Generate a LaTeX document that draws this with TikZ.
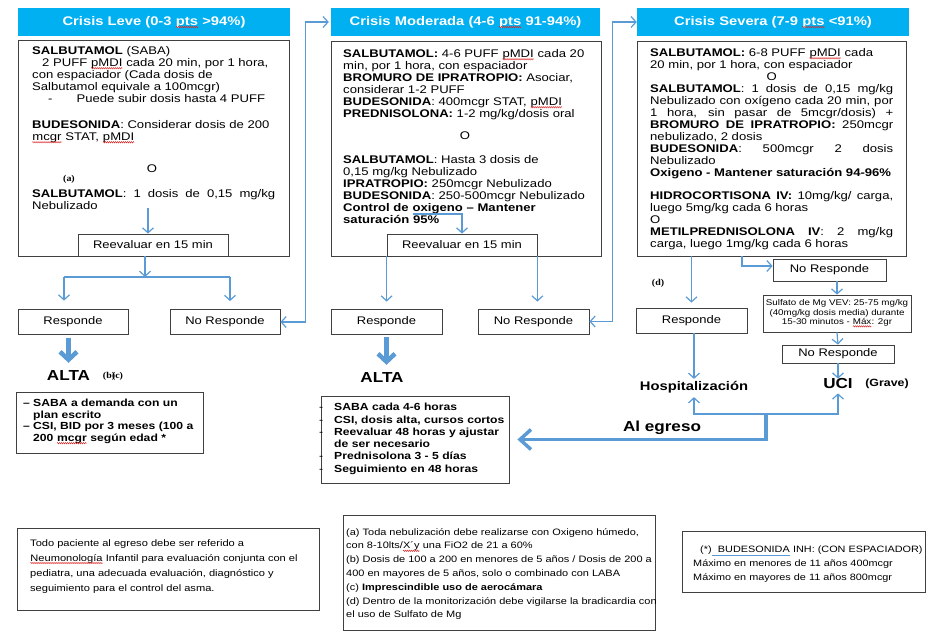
\documentclass[tikz,border=0pt]{standalone}
\usepackage{fontspec}
\setmainfont{Liberation Sans}[FakeStretch=1.18]
\newfontfamily\notefont{Liberation Serif}[FakeStretch=1.1]
\usetikzlibrary{arrows.meta,decorations.pathmorphing}

\definecolor{hdrblue}{RGB}{0,176,240}
\definecolor{lineblue}{RGB}{91,155,213}
\definecolor{boxgray}{RGB}{64,64,64}
\definecolor{sqred}{RGB}{220,40,40}

\tikzset{plainword/.style={shape=rectangle, draw=none, fill=none, minimum width=0pt, minimum height=0pt,
    inner sep=0pt, outer sep=0pt, anchor=base, align=left}}

\newcommand{\jline}[1]{\makebox[243pt][s]{#1}}
\newcommand{\dashitem}[1]{\makebox[10pt][l]{--}#1}
\newcommand{\sq}[1]{\tikz[baseline=(sqw.base)]{\node[plainword] (sqw) {#1};
    \draw[sqred, line width=0.45pt, decorate, decoration={zigzag, amplitude=0.7pt, segment length=2pt}] ([yshift=-2pt]sqw.base west) -- ([yshift=-2pt]sqw.base east);}}
\newcommand{\bul}[1]{\tikz[baseline=(ulw.base)]{\node[plainword] (ulw) {#1};
    \draw[lineblue, line width=0.6pt] ([yshift=-2pt]ulw.base west) -- ([yshift=-2pt]ulw.base east);}}
\newcommand{\bdul}[1]{\tikz[baseline=(ulw.base)]{\node[plainword] (ulw) {#1};
    \draw[lineblue, line width=0.5pt] ([yshift=-2pt]ulw.base west) -- ([yshift=-2pt]ulw.base east)
        ([yshift=-3.5pt]ulw.base west) -- ([yshift=-3.5pt]ulw.base east);}}

\begin{document}
\begin{tikzpicture}[x=1pt,y=-1pt,
    hdr/.style={fill=hdrblue, text=white, font=\bfseries\fontsize{12.5}{14}\selectfont, minimum height=28pt, inner sep=0pt},
    panel/.style={draw=boxgray, line width=0.8pt, inner sep=0pt},
    txt/.style={anchor=north west, inner sep=0pt, align=left, font=\fontsize{11.1}{12}\selectfont},
    small/.style={panel, font=\fontsize{11}{13}\selectfont},
    link/.style={draw=lineblue, line width=1.2pt, -{Straight Barb[length=5pt,width=11pt]}},
    link2/.style={draw=lineblue, line width=1.2pt, {Straight Barb[length=5pt,width=11pt]}-{Straight Barb[length=5pt,width=11pt]}},
    fat/.style={draw=lineblue, line width=4.5pt, -{Straight Barb[length=8pt,width=17pt]}},
    big/.style={font=\bfseries\fontsize{14.5}{16}\selectfont, inner sep=0pt},
    refmark/.style={font=\notefont\bfseries\fontsize{9}{10}\selectfont, inner sep=0pt}]

    \useasboundingbox (0,0) rectangle (934,639);

    \node[hdr, minimum width=272pt] (leveHdr) at (154,22) {Crisis Leve (0-3 \sq{pts} >94\%)};
    \node[hdr, minimum width=269pt] (modHdr) at (465.5,22) {Crisis Moderada (4-6 \sq{pts} 91-94\%)};
    \node[hdr, minimum width=272pt] (sevHdr) at (773,22) {Crisis Severa (7-9 \sq{pts} <91\%)};

    \node[panel, minimum width=271pt, minimum height=216pt] (leve) at (153.5,148) {};
    \node[panel, minimum width=270pt, minimum height=215pt] (mod) at (466,148.5) {};
    \node[panel, minimum width=269pt, minimum height=215pt] (sev) at (771.5,148.5) {};

    % leve
    \node[txt] (leveTxtA) at (32,46) {\textbf{SALBUTAMOL} (SABA)\\
        \hspace*{10pt}2 PUFF \sq{pMDI} cada 20 min, por 1 hora,\\
        con espaciador (Cada dosis de\\
        Salbutamol equivale a 100mcgr)\\
        \hspace*{16pt}-\hspace*{24pt}Puede subir dosis hasta 4 PUFF\\[14pt]
        \textbf{BUDESONIDA}: Considerar dosis de 200\\
        \sq{mcgr} STAT, \sq{pMDI}};
    \node[txt, anchor=center] (leveO) at (152,169) {O};
    \node[refmark] (noteA) at (69,179) {(a)};
    \node[txt] (leveTxtB) at (32,189) {\jline{\textbf{SALBUTAMOL}: 1 dosis de 0,15 mg/kg}\\
        Nebulizado};

    % moderada
    \node[txt] (modTxtA) at (343,49) {\textbf{SALBUTAMOL:} 4-6 PUFF \sq{pMDI} cada 20\\
        min, por 1 hora, con espaciador\\
        \textbf{BROMURO DE IPRATROPIO:} Asociar,\\
        considerar 1-2 PUFF\\
        \textbf{BUDESONIDA}: 400mcgr STAT, \sq{pMDI}\\
        \textbf{PREDNISOLONA:} 1-2 mg/kg/dosis oral};
    \node[txt, anchor=center] (modO) at (465,136) {O};
    \node[txt] (modTxtB) at (343,155) {\textbf{SALBUTAMOL}: Hasta 3 dosis de\\
        0,15 mg/kg Nebulizado\\
        \textbf{IPRATROPIO:} 250mcgr Nebulizado\\
        \textbf{BUDESONIDA}: 250-500mcgr Nebulizado\\
        \textbf{Control de \bdul{oxigeno} -- Mantener}\\
        \textbf{saturación 95\%}};

    % severa
    \node[txt] (sevTxt) at (650,48) {\textbf{SALBUTAMOL:} 6-8 PUFF \sq{pMDI} cada\\
        20 min, por 1 hora, con espaciador\\
        \makebox[243pt]{O}\\
        \jline{\textbf{SALBUTAMOL}: 1 dosis de 0,15 mg/kg}\\
        \jline{Nebulizado con oxígeno cada 20 min, por}\\
        \jline{1 hora, sin pasar de 5mcgr/dosis) +}\\
        \jline{\textbf{BROMURO DE IPRATROPIO:} 250mcgr}\\
        nebulizado, 2 dosis\\
        \jline{\textbf{BUDESONIDA}: 500mcgr 2 dosis}\\
        Nebulizado\\
        \textbf{Oxigeno - Mantener saturación 94-96\%}\\[11pt]
        \jline{\textbf{HIDROCORTISONA IV:} 10mg/kg/ carga,}\\
        luego 5mg/kg cada 6 horas\\
        O\\
        \jline{\textbf{METILPREDNISOLONA IV}: 2 mg/kg}\\
        carga, luego 1mg/kg cada 6 horas};

    \node[small, minimum width=150pt, minimum height=22pt] (reev1) at (153,245) {Reevaluar en 15 min};
    \node[small, minimum width=150pt, minimum height=22pt] (reev2) at (462,245) {Reevaluar en 15 min};

    \node[small, minimum width=110pt, minimum height=25pt] (resp1) at (73,321.5) {Responde};
    \node[small, minimum width=110pt, minimum height=25pt] (noresp1) at (225,322) {No Responde};
    \node[small, minimum width=111pt, minimum height=25pt] (resp2) at (386.5,321.5) {Responde};
    \node[small, minimum width=111pt, minimum height=25pt] (noresp2) at (533.5,321.5) {No Responde};
    \node[small, minimum width=111pt, minimum height=25pt] (resp3) at (691.5,320.5) {Responde};
    \node[small, minimum width=113pt, minimum height=22pt] (noresp3a) at (829.5,270) {No Responde};
    \node[panel, minimum width=148pt, minimum height=37pt, align=center, font=\fontsize{8.3}{9.3}\selectfont] (sulfato) at (837,313.5)
        {Sulfato de Mg VEV: 25-75 mg/kg\\(40mg/kg dosis media) durante\\15-30 minutos - \sq{Máx}: 2gr};
    \node[small, minimum width=112pt, minimum height=18pt] (noresp3b) at (838,354) {No Responde};

    \node[big] (alta1) at (68.5,376) {ALTA};
    \node[refmark] (noteBC) at (113,376) {(b)\kern-3pt(c)};
    \node[big] (alta2) at (382,378) {ALTA};
    \node[refmark] (noteD) at (658,283) {(d)};
    \node[inner sep=0pt, font=\bfseries\fontsize{12.5}{14}\selectfont] (hosp) at (694,387) {Hospitalización};
    \node[big] (uci) at (838,384) {UCI};
    \node[inner sep=0pt, font=\bfseries\fontsize{10.5}{12}\selectfont] (grave) at (887,384) {(Grave)};
    \node[big] (egreso) at (662,428) {Al egreso};

    \node[panel, minimum width=187pt, minimum height=61pt] (altaBox1) at (109.5,422.5) {};
    \node[txt, font=\bfseries\fontsize{10.3}{11.5}\selectfont] (altaTxt1) at (23,399) {\dashitem{SABA a demanda con un}\\
        \hspace*{10pt}plan escrito\\
        \dashitem{CSI, BID por 3 meses (100 a}\\
        \hspace*{10pt}200 \sq{mcgr} según edad *};
    \node[panel, minimum width=188pt, minimum height=87pt] (altaBox2) at (415,439.5) {};
    \node[txt, font=\bfseries\fontsize{10.3}{11.5}\selectfont] (altaTxt2) at (319,403) {\makebox[15pt][l]{\mdseries -}SABA cada 4-6 horas\\[1pt]
        \makebox[15pt][l]{\mdseries -}CSI, dosis alta, cursos cortos\\[1pt]
        \makebox[15pt][l]{\mdseries -}Reevaluar 48 horas y ajustar\\
        \hspace*{15pt}de ser necesario\\[1pt]
        \makebox[15pt][l]{\mdseries -}Prednisolona 3 - 5 días\\[1pt]
        \makebox[15pt][l]{\mdseries -}Seguimiento en 48 horas};

    \node[panel, minimum width=302pt, minimum height=82pt] (note1) at (168,569) {};
    \node[txt, font=\fontsize{9.4}{15}\selectfont] (note1Txt) at (30,539) {Todo paciente al egreso debe ser referido a\\
        \sq{Neumonología} Infantil para evaluación conjunta con el\\
        pediatra, una adecuada evaluación, diagnóstico y\\
        seguimiento para el control del asma.};
    \node[panel, minimum width=312pt, minimum height=115pt] (note2) at (499,572.5) {};
    \node[txt, font=\fontsize{9.3}{13.8}\selectfont] (note2Txt) at (346,528) {(a) Toda nebulización debe realizarse con Oxigeno húmedo,\\
        con 8-10lts/\sq{X´y} una FiO2 de 21 a 60\%\\
        (b) Dosis de 100 a 200 en menores de 5 años / Dosis de 200 a\\
        400 en mayores de 5 años, solo o combinado con LABA\\
        (c) \textbf{Imprescindible uso de aerocámara}\\
        (d) Dentro de la monitorización debe vigilarse la bradicardia con\\
        el uso de Sulfato de Mg};
    \node[panel, minimum width=243pt, minimum height=61pt] (note3) at (803.5,561.5) {};
    \node[txt, font=\fontsize{9.2}{14}\selectfont] (note3Txt) at (693,546) {\hspace*{7pt}(*)\bul{\ \ BUDESONIDA} INH: (CON ESPACIADOR)\\
        Máximo en menores de 11 años 400mcgr\\
        Máximo en mayores de 11 años 800mcgr};

    \coordinate (leveOut) at (148,208);
    \coordinate (leveSplit) at (145,277);
    \coordinate (leveL) at (64,277);
    \coordinate (leveR) at (230,277);
    \coordinate (modOut) at (462,213);
    \coordinate (sevSplit) at (742,256);
    \coordinate (egJoin) at (766,414);

    \draw[link] (leveOut) -- (leveOut |- reev1.north);
    \draw[link] (reev1.south -| leveSplit) -- (leveSplit);
    \draw[lineblue, line width=1.2pt] (leveL) -- (leveR);
    \draw[link, shorten >=8pt] (leveL) -- (leveL |- resp1.north);
    \draw[link, shorten >=8pt] (leveR) -- (leveR |- noresp1.north);
    \draw[fat, shorten <=4pt, shorten >=8pt] (alta1 |- resp1.south) -- (alta1.north);
    \draw[link2, shorten >=2pt] (noresp1.east) -- ++(25,0) |- (modHdr.west);

    \draw[link] (modOut) -- (modOut |- reev2.north);
    \draw[link, shorten >=7pt] (reev2.south west) -- (reev2.south west |- resp2.north);
    \draw[link, shorten >=7pt] (reev2.south east) -- (reev2.south east |- noresp2.north);
    \draw[fat, shorten <=3pt, shorten >=8pt] (resp2.south) -- (resp2.south |- alta2.north);
    \draw[link2] (noresp2.east) -- ++(23,0) |- (sevHdr.west);

    \draw[link, shorten >=5pt] (resp3.north |- sev.south) -- (resp3.north);
    \draw[link] (sevSplit) |- ([yshift=4pt]noresp3a.west);
    \draw[link] (sulfato.north |- noresp3a.south) -- (sulfato.north);
    \draw[link] (sulfato.south) -- (noresp3b.north);
    \draw[link] (noresp3b.south) -- (uci.north);
    \draw[link, shorten >=2pt] (hosp.north |- resp3.south) -- (hosp.north);

    \draw[link2, shorten <=4pt, shorten >=4pt] (hosp.south) -- (hosp.south |- egJoin) -- (uci.south |- egJoin) -- (uci.south);
    \draw[draw=lineblue, line width=3.5pt, -{Straight Barb[length=11pt,width=20pt]}, shorten >=8pt] (egJoin) |- (altaBox2.east);
\end{tikzpicture}
\end{document}
